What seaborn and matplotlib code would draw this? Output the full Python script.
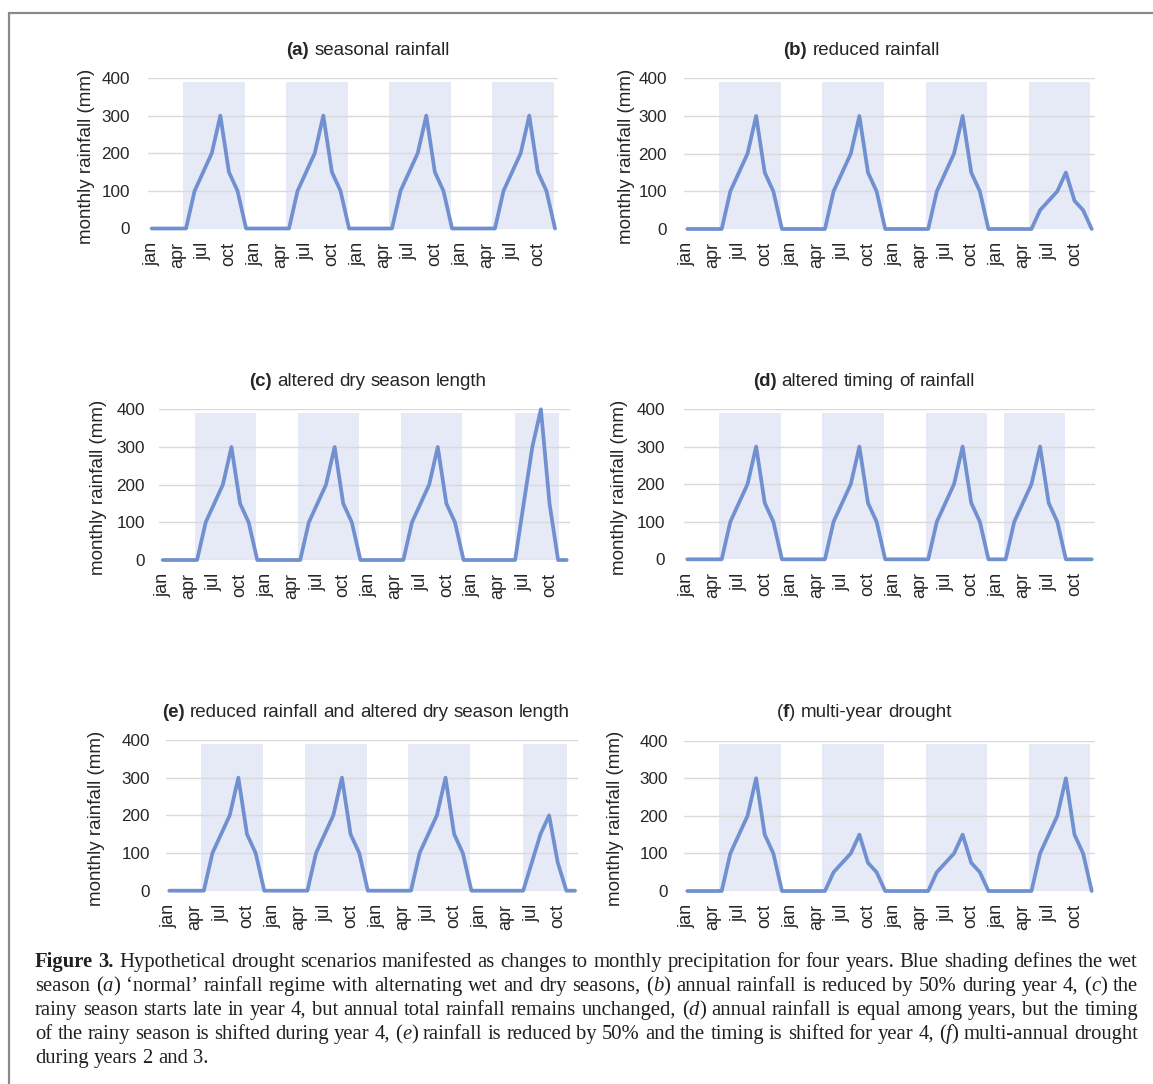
import re
import pandas as pd
import seaborn as sns
import matplotlib.pyplot as plt
from matplotlib.lines import Line2D

# monthly rainfall (mm) for one year, jan..dec
normal_year = [0, 0, 0, 0, 0, 100, 150, 200, 300, 150, 100, 0]
half_year = [0, 0, 0, 0, 0, 50, 75, 100, 150, 75, 50, 0]
late_year = [0, 0, 0, 0, 0, 0, 150, 300, 400, 150, 0, 0]
early_year = [0, 0, 100, 150, 200, 300, 150, 100, 0, 0, 0, 0]
late_half_year = [0, 0, 0, 0, 0, 0, 75, 150, 200, 75, 0, 0]

month_labels = ['jan', 'apr', 'jul', 'oct']
n_years = 4

# wet season shading, (start, end) in months after jan of that year
wet_normal = (3.7, 10.85)
wet_late = (5.0, 10.1)
wet_early = (0.75, 7.95)
wet_top = 390

panel_titles = ['_(a)_ seasonal rainfall',
                '_(b)_ reduced rainfall',
                '_(c)_ altered dry season length',
                '_(d)_ altered timing of rainfall',
                '_(e)_ reduced rainfall and altered dry season length',
                '(_f_) multi-year drought']

panel_years = [
    [normal_year, normal_year, normal_year, normal_year],
    [normal_year, normal_year, normal_year, half_year],
    [normal_year, normal_year, normal_year, late_year],
    [normal_year, normal_year, normal_year, early_year],
    [normal_year, normal_year, normal_year, late_half_year],
    [normal_year, half_year, half_year, normal_year],
]

panel_wet = [
    [wet_normal, wet_normal, wet_normal, wet_normal],
    [wet_normal, wet_normal, wet_normal, wet_normal],
    [wet_normal, wet_normal, wet_normal, wet_late],
    [wet_normal, wet_normal, wet_normal, wet_early],
    [wet_normal, wet_normal, wet_normal, wet_late],
    [wet_normal, wet_normal, wet_normal, wet_normal],
]

caption_lines = [
    "_Figure_ _3._ Hypothetical drought scenarios manifested as changes to monthly precipitation for four years. Blue shading defines the wet",
    "season (*a*) ‘normal’ rainfall regime with alternating wet and dry seasons, (*b*) annual rainfall is reduced by 50% during year 4, (*c*) the",
    "rainy season starts late in year 4, but annual total rainfall remains unchanged, (*d*) annual rainfall is equal among years, but the timing",
    "of the rainy season is shifted during year 4, (*e*) rainfall is reduced by 50% and the timing is shifted for year 4, (*f*) multi-annual drought",
    "during years 2 and 3.",
]

# layout in pixels: month 0 x, month 47 x, y of 400, y of 0
panel_box = [
    (151.7, 555.0, 78.0, 228.5),
    (687.3, 1091.7, 78.3, 229.0),
    (162.7, 566.7, 409.3, 560.0),
    (687.3, 1091.7, 409.0, 559.3),
    (169.3, 575.0, 740.0, 890.7),
    (687.3, 1091.7, 740.7, 891.0),
]
title_pos = [(368, 55), (862, 55), (368, 386), (864, 386), (366, 717), (864, 717)]
ylabel_x = [88, 628, 100, 621, 98, 617]
ytick_right = [130, 667, 145, 665, 150, 668]

line_color = '#7190d0'
shade_color = '#e6e9f6'
grid_color = '#d9d9d9'
text_color = '#262626'

sns.set_style('white')
plt.rcParams['font.family'] = ['Liberation Sans', 'DejaVu Sans']

W, H = 1153, 1084
fig = plt.figure(figsize=(W / 100, H / 100), dpi=100)
renderer = fig.canvas.get_renderer()


def word_parts(word):
    parts = []
    for p in re.split(r'(\*[^*]+\*|_[^_]+_)', word):
        if not p:
            continue
        if p.startswith('*'):
            parts.append((p[1:-1], 'normal', 'italic'))
        elif p.startswith('_'):
            parts.append((p[1:-1], 'bold', 'normal'))
        else:
            parts.append((p, 'normal', 'normal'))
    return parts


def draw_line(text, x, y, size, family, space_em, width=None, center=False, color=text_color):
    # place words one by one so mixed bold/italic and justified lines work
    pieces = []
    for w in text.split():
        ts = []
        for s, wt, st in word_parts(w):
            t = fig.text(0, 1 - y / H, s, fontsize=size, family=family, weight=wt,
                         style=st, color=color, va='baseline', ha='left')
            ts.append((t, t.get_window_extent(renderer).width))
        pieces.append(ts)
    widths = [sum(w for _, w in ts) for ts in pieces]
    space = space_em * size * 100 / 72
    if width is not None and len(pieces) > 1:
        space = (width - sum(widths)) / (len(pieces) - 1)
    total = sum(widths) + space * (len(pieces) - 1)
    cx = x - total / 2 if center else x
    for ts, wsum in zip(pieces, widths):
        px = cx
        for t, w in ts:
            t.set_x(px / W)
            px += w
        cx += wsum + space


pad_l, pad_r = 0.4, 0.4
for i in range(6):
    x0, x47, y400, y0 = panel_box[i]
    ppm = (x47 - x0) / 47
    left = x0 - pad_l * ppm
    right = x47 + pad_r * ppm
    ax = fig.add_axes([left / W, 1 - y0 / H, (right - left) / W, (y0 - y400) / H])

    rain = [v for year in panel_years[i] for v in year]
    df = pd.DataFrame({'month': range(12 * n_years), 'rain': rain})

    for yr, (s, e) in enumerate(panel_wet[i]):
        ax.bar(12 * yr + s, wet_top, width=e - s, align='edge',
               color=shade_color, linewidth=0, zorder=1)
    sns.lineplot(data=df, x='month', y='rain', ax=ax, color=line_color,
                 linewidth=2.7, clip_on=False, zorder=3)

    ax.set_xlim(-pad_l, 12 * n_years - 1 + pad_r)
    ax.set_ylim(0, 400)
    ax.set_yticks([0, 100, 200, 300, 400])
    ax.set_xticks(range(0, 12 * n_years, 3))
    ax.set_xticklabels(month_labels * n_years, rotation=90)
    ax.yaxis.grid(True, color=grid_color, linewidth=1, zorder=2)
    ax.set_axisbelow(False)
    for sp in ax.spines.values():
        sp.set_visible(False)
    ax.tick_params(axis='x', length=0, pad=9.5, labelsize=13, labelcolor=text_color)
    ax.tick_params(axis='y', length=0, pad=(left - ytick_right[i]) * 0.72,
                   labelsize=12.3, labelcolor=text_color)
    ax.set_xlabel('')
    ax.set_ylabel('monthly rainfall (mm)', fontsize=13.5, color=text_color)
    ax.yaxis.set_label_coords((ylabel_x[i] + 7 - left) / (right - left), 0.48)

    tx, ty = title_pos[i]
    draw_line(panel_titles[i], tx, ty, 13.5, 'Liberation Sans', 0.278, center=True)

# caption, justified between x=35 and x=1138
for k, line in enumerate(caption_lines):
    justify = 1138 - 35 if k < len(caption_lines) - 1 else None
    draw_line(line, 35, 967 + 24 * k, 14.9, 'Liberation Serif', 0.25,
              width=justify, color='#231f20')

# frame lines at top and left
fig.add_artist(Line2D([9 / W, 9 / W], [0, 1 - 13 / H], color='#8a8a8a', linewidth=1.6,
                      transform=fig.transFigure))
fig.add_artist(Line2D([9 / W, 1], [1 - 13 / H, 1 - 13 / H], color='#8a8a8a', linewidth=1.6,
                      transform=fig.transFigure))

fig.savefig('out.png', dpi=100)
